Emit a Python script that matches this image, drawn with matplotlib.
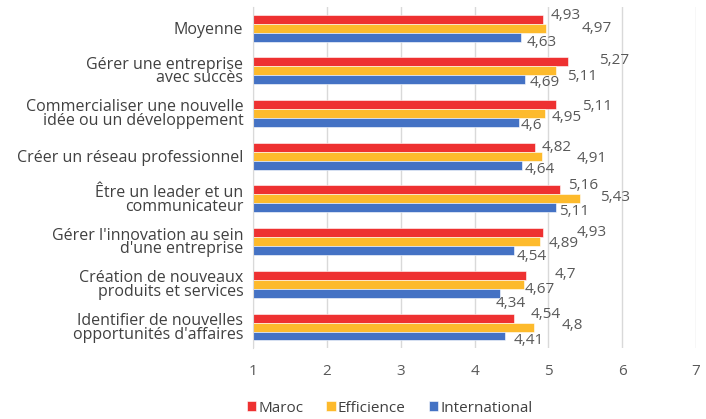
import numpy as np
import matplotlib
matplotlib.use("Agg")
import matplotlib.pyplot as plt

plt.rcParams['font.family'] = ['Open Sans', 'DejaVu Sans']

categories = [
    "Moyenne",
    "Gérer une entreprise\navec succès",
    "Commercialiser une nouvelle\nidée ou un développement",
    "Créer un réseau professionnel",
    "Être un leader et un\ncommunicateur",
    "Gérer l'innovation au sein\nd'une entreprise",
    "Création de nouveaux\nproduits et services",
    "Identifier de nouvelles\nopportunités d'affaires",
]
maroc = [4.93, 5.27, 5.11, 4.82, 5.16, 4.93, 4.70, 4.54]
efficience = [4.97, 5.11, 4.95, 4.91, 5.43, 4.89, 4.67, 4.80]
international = [4.63, 4.69, 4.60, 4.64, 5.11, 4.54, 4.34, 4.41]
series_names = ["Maroc", "Efficience", "International"]

colors = ["#EE3131", "#FDBA2C", "#4472C4"]

# label offsets from bar end, in pixels (dx right, dy down), as dragged in the original
label_dx = [
    [7, 36, 6], [31, 11, 4], [26, 7, 2], [7, 35, 3],
    [8, 20, 3], [33, 8, 2], [28, 1, -4], [16, 28, 9],
]
label_dy = [
    [-4, 0, 5], [-1, 6, 3], [2, 4, 3], [0, 2, 4],
    [-4, -1, 4], [0, 2, 6], [-1, 5, 10], [-4, -2, 4],
]

fs = 11
fig = plt.figure(figsize=(7.06, 4.19), dpi=100)
ax = fig.add_axes([0.3584, 0.1685, 0.6274, 0.8155])

y = np.arange(len(categories))
h = 0.21
data = [maroc, efficience, international]
offs = [-h, 0, h]
px2pt = 72 / 100
for k, (vals, col, name) in enumerate(zip(data, colors, series_names)):
    base = 1
    ax.barh(y + offs[k], np.array(vals) - base, left=base, height=h,
            color=col, edgecolor="white", linewidth=0.4, label=name, zorder=3)
    for i, v in enumerate(vals):
        txt = f"{v:g}".replace(".", ",")
        ax.annotate(txt, (v, y[i] + offs[k]),
                    xytext=(label_dx[i][k] * px2pt, -label_dy[i][k] * px2pt),
                    textcoords="offset points", ha="left", va="center",
                    fontsize=fs, color="#595959", zorder=4)

ax.set_xlim(1, 7)
ax.set_ylim(len(categories) - 0.5, -0.5)
ax.set_xticks(range(1, 8))
ax.set_yticks(y)
ax.set_yticklabels(categories, fontsize=11.5, color="#404040", linespacing=0.8)
ax.tick_params(axis="x", labelsize=fs, labelcolor="#595959", length=0, pad=11)
ax.tick_params(axis="y", length=0, pad=7)
ax.grid(axis="x", color="#D9D9D9", linewidth=1, zorder=0)
for s in ["top", "right", "bottom"]:
    ax.spines[s].set_visible(False)
ax.spines["left"].set_color("#D9D9D9")
ax.spines["left"].set_zorder(5)

fig.legend(loc="center", bbox_to_anchor=(0.552, 0.026), ncol=3, frameon=False,
           fontsize=fs, handlelength=0.6, handleheight=0.6, handletextpad=0.15,
           columnspacing=1.5, labelcolor="#404040")

fig.savefig("out.png", dpi=100)
